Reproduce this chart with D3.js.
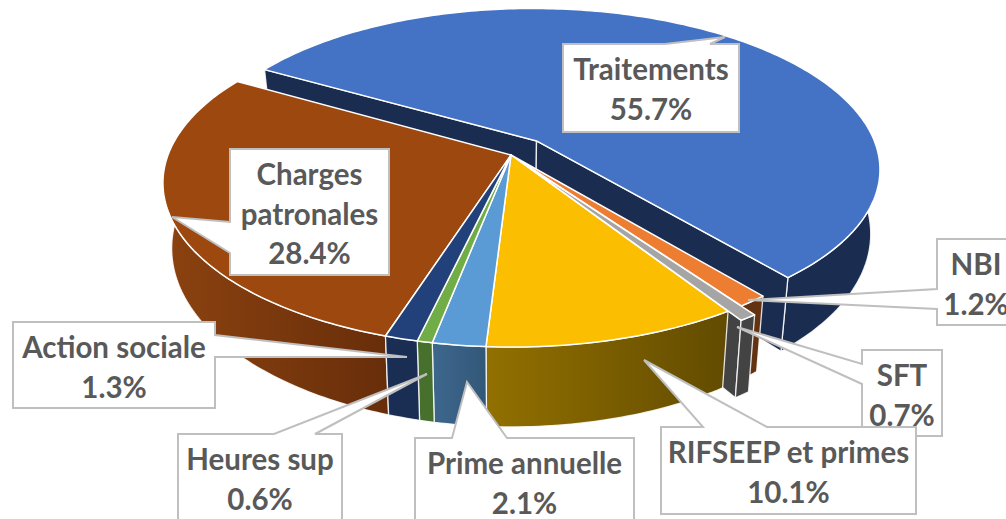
<!DOCTYPE html>
<html>
<head>
<meta charset="utf-8">
<script src="https://cdn.jsdelivr.net/npm/d3@7"></script>
<style>
  html, body { margin: 0; padding: 0; background: #fff; overflow: hidden; }
  text { font-family: Lato, "Open Sans", sans-serif; font-weight: 700; font-size: 29.5px; fill: #595959; text-anchor: middle; }
</style>
</head>
<body>
<svg id="chart" width="1006" height="519"></svg>
<script>
// chart data, clockwise from the top left corner of the blue slice
var categories = ['Traitements', 'NBI', 'SFT', 'RIFSEEP et primes', 'Prime annuelle', 'Heures sup', 'Action sociale', 'Charges patronales'];
var shares = [55.7, 1.2, 0.7, 10.1, 2.1, 0.6, 1.3, 28.4];
var explode = [0.117, 0, 0.05, 0, 0, 0, 0, 0];

var topColors = ['#4472C4', '#ED7D31', '#A5A5A5', '#FBBE00', '#5B9BD5', '#70AD47', '#22417A', '#9C480F'];
var wallFrom = ['#1A2D50', '#633311', '#434343', '#927000', '#3E678E', '#47702C', '#1A2E54', '#8C4210'];
var wallTo = ['#1A2D50', '#633311', '#434343', '#624B00', '#325878', '#47702C', '#1A2E54', '#682E0A'];

// callout layout: box edges, pointer tip, and where the pointer leaves the box
var callouts = [
  { x0: 563, y0: 44, x1: 739, y1: 132, side: 'top', tip: [725, 37], base: [665, 710], lines: ['Traitements', '55.7%'] },
  { x0: 937, y0: 239, x1: 1015, y1: 325, side: 'left', tip: [748, 300], base: [289, 309], lines: ['NBI', '1.2%'] },
  { x0: 862, y0: 350, x1: 942, y1: 436, side: 'left', tip: [737, 327], base: [364, 384], lines: ['SFT', '0.7%'] },
  { x0: 661, y0: 427, x1: 916, y1: 514, side: 'top', tip: [644, 360], base: [703, 767], lines: ['RIFSEEP et primes', '10.1%'] },
  { x0: 415, y0: 438, x1: 634, y1: 526, side: 'top', tip: [467, 382], base: [452, 507], lines: ['Prime annuelle', '2.1%'] },
  { x0: 178, y0: 434, x1: 342, y1: 522, side: 'top', tip: [427, 374], base: [274, 315], lines: ['Heures sup', '0.6%'] },
  { x0: 13, y0: 322, x1: 215, y1: 408, side: 'right', tip: [407, 357], base: [335, 357], lines: ['Action sociale', '1.3%'] },
  { x0: 230, y0: 149, x1: 389, y1: 275, side: 'left', tip: [172, 217], base: [222, 253], lines: ['Charges', 'patronales', '28.4%'] }
];

var svg = d3.select('#chart');
var defs = svg.append('defs');

var cx = 511, cy = 155;
var persp = 0.17;

var xTop = d3.scaleLinear().domain([-1, 1]).range([cx - 343, cx + 343]);
var yTop = d3.scaleLinear().domain([-1, 1]).range([cy - 159.4, cy + 159.4]);
// the lower face is seen a little more from above, so it is rounder and narrower
var xBottom = d3.scaleLinear().domain([-1, 1]).range([cx - 334.4, cx + 334.4]);
var yBottom = d3.scaleLinear().domain([-1, 1]).range([cy + 63 - 173.4, cy + 63 + 173.4]);

var startAngle = 300 * Math.PI / 180;
var pie = d3.pie().sort(null).startAngle(startAngle).endAngle(startAngle + 2 * Math.PI);
var arcs = pie(shares);

var line = d3.line().curve(d3.curveLinear);

// disc point -> screen, with a bit of perspective towards the viewer
function project(p, lower) {
  var f = 1 / (1 - persp * p.v);
  var sx = lower ? xBottom : xTop, sy = lower ? yBottom : yTop;
  return [sx(p.u * f), sy(p.v * f)];
}

function offset(i) {
  var a = (arcs[i].startAngle + arcs[i].endAngle) / 2;
  return { u: Math.sin(a) * explode[i], v: -Math.cos(a) * explode[i] };
}

function rimPoints(i) {
  var a0 = arcs[i].startAngle, a1 = arcs[i].endAngle, o = offset(i);
  var n = Math.max(4, Math.ceil((a1 - a0) * 60));
  return d3.range(n + 1).map(function(k) {
    var a = a0 + (a1 - a0) * k / n;
    return { u: o.u + Math.sin(a), v: o.v - Math.cos(a) };
  });
}

function wallPath(points) {
  var upper = points.map(function(p) { return project(p, false); });
  var lower = points.map(function(p) { return project(p, true); }).reverse();
  return line(upper.concat(lower)) + 'Z';
}

function wallFill(i) {
  if (wallFrom[i] === wallTo[i]) return wallFrom[i];
  var xs = rimPoints(i).map(function(p) { return project(p, false)[0]; });
  var id = 'wall-' + i;
  var grad = defs.append('linearGradient')
    .attr('id', id)
    .attr('gradientUnits', 'userSpaceOnUse')
    .attr('x1', d3.min(xs)).attr('x2', d3.max(xs))
    .attr('y1', 0).attr('y2', 0);
  grad.append('stop').attr('offset', 0).attr('stop-color', wallFrom[i]);
  grad.append('stop').attr('offset', 1).attr('stop-color', wallTo[i]);
  return 'url(#' + id + ')';
}

function drawWall(i, points) {
  svg.append('path')
    .attr('d', wallPath(points))
    .attr('fill', wallFill(i))
    .attr('stroke', '#fff')
    .attr('stroke-opacity', 0.85)
    .attr('stroke-width', 1.3)
    .attr('stroke-linejoin', 'round');
}

function drawTop(i) {
  var o = offset(i);
  var pts = [o].concat(rimPoints(i)).map(function(p) { return project(p, false); });
  svg.append('path')
    .attr('d', line(pts) + 'Z')
    .attr('fill', topColors[i])
    .attr('stroke', '#fff')
    .attr('stroke-width', 1.5)
    .attr('stroke-linejoin', 'round');
}

function radialWall(i, which) {
  var o = offset(i), rim = rimPoints(i);
  return [o, which === 'start' ? rim[0] : rim[rim.length - 1]];
}

// the exploded blue slice goes first, everything else sits in front of it
drawWall(0, rimPoints(0));
drawWall(0, radialWall(0, 'start'));
drawWall(0, radialWall(0, 'end'));
drawTop(0);

drawWall(7, rimPoints(7));
drawWall(1, rimPoints(1));
drawWall(2, radialWall(2, 'end'));
drawWall(2, rimPoints(2));
[3, 4, 5, 6].forEach(function(i) { drawWall(i, rimPoints(i)); });
[7, 1, 3, 4, 5, 6, 2].forEach(drawTop);

function calloutPath(c) {
  var p;
  if (c.side === 'top') {
    p = [[c.x0, c.y0], [c.base[0], c.y0], c.tip, [c.base[1], c.y0], [c.x1, c.y0], [c.x1, c.y1], [c.x0, c.y1]];
  } else if (c.side === 'left') {
    p = [[c.x0, c.y0], [c.x1, c.y0], [c.x1, c.y1], [c.x0, c.y1], [c.x0, c.base[1]], c.tip, [c.x0, c.base[0]]];
  } else {
    p = [[c.x0, c.y0], [c.x1, c.y0], [c.x1, c.base[0]], c.tip, [c.x1, c.base[1]], [c.x1, c.y1], [c.x0, c.y1]];
  }
  return line(p) + 'Z';
}

var labels = svg.selectAll('g.callout')
  .data(callouts)
  .enter()
  .append('g')
  .attr('class', 'callout');

labels.append('path')
  .attr('d', calloutPath)
  .attr('fill', '#fff')
  .attr('stroke', '#BFBFBF')
  .attr('stroke-width', 2);

labels.each(function(c) {
  d3.select(this).selectAll('text')
    .data(c.lines)
    .enter()
    .append('text')
    .attr('x', (c.x0 + c.x1) / 2)
    .attr('y', function(d, i) { return c.y0 + 36 + i * 39.5; })
    .text(function(d) { return d; });
});
</script>
</body>
</html>
